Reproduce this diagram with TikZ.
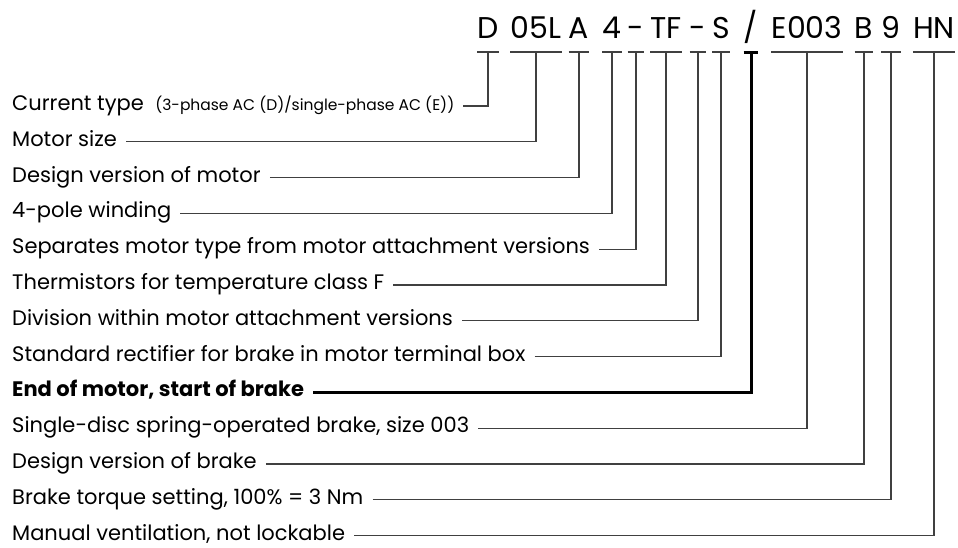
\documentclass[tikz,border=0pt]{standalone}
\usepackage{fontspec}
\setmainfont{Poppins}
\usetikzlibrary{positioning}

\begin{document}
\begin{tikzpicture}[x=1pt,y=-1pt,
 lbl/.style={anchor=base west,inner sep=0pt,font=\fontsize{21}{25}\selectfont},
 note/.style={anchor=base west,inner sep=0pt,font=\fontsize{15.5}{18}\selectfont},
 code/.style={anchor=base,inner sep=0pt,font=\fontsize{30}{35}\selectfont},
 lead/.style={draw=black!75,line width=1.2pt},
 key/.style={draw=black,line width=3pt}]
\useasboundingbox (0,0) rectangle (958,547);
% type code
\node[code] (c1) at (488,38) {D};
\node[code] (c2) at (536,38) {05L};
\node[code] (c3) at (579,38) {A};
\node[code] (c4) at (612,38) {4};
\node[code] (c5) at (636,38) {-};
\node[code] (c6) at (666,38) {TF};
\node[code] (c7) at (698,38) {-};
\node[code] (c8) at (721,38) {S};
\node[code] (c9) at (751,38) {/};
\node[code] (c10) at (807,38) {E003};
\node[code] (c11) at (864,38) {B};
\node[code] (c12) at (891,38) {9};
\node[code] (c13) at (934,38) {HN};
% explanations
\node[lbl] (l1) at (12,110.5) {Current type};
\node[note] (n1) at ([xshift=11pt]l1.base east) {(3-phase AC (D)/single-phase AC (E))};
\node[lbl] (l2) at (12,146.3) {Motor size};
\node[lbl] (l3) at (12,182.1) {Design version of motor};
\node[lbl] (l4) at (12,217.9) {4-pole winding};
\node[lbl] (l5) at (12,253.7) {Separates motor type from motor attachment versions};
\node[lbl] (l6) at (12,289.5) {Thermistors for temperature class F};
\node[lbl] (l7) at (12,325.3) {Division within motor attachment versions};
\node[lbl] (l8) at (12,361.1) {Standard rectifier for brake in motor terminal box};
\node[lbl,font=\fontsize{21}{25}\selectfont\bfseries] (l9) at (12,396.9) {End of motor, start of brake};
\node[lbl] (l10) at (12,432.7) {Single-disc spring-operated brake, size 003};
\node[lbl] (l11) at (12,468.5) {Design version of brake};
\node[lbl] (l12) at (12,504.3) {Brake torque setting, 100\% = 3 Nm};
\node[lbl] (l13) at (12,540.1) {Manual ventilation, not lockable};
% bars under the code
\foreach \i in {1,...,8,10,11,12,13}
  \draw[lead] ([yshift=-14pt]c\i.base west) -- ([yshift=-14pt]c\i.base east);
\draw[key] ([yshift=-14pt]c9.base west) -- ([yshift=-14pt]c9.base east);
% leaders
\draw[lead] (n1.base east) ++(9,-4.5) -| ([yshift=-14pt]c1.base);
\foreach \i in {2,...,8,10,11,12,13}
  \draw[lead] (l\i.base east) ++(9,-4.5) -| ([yshift=-14pt]c\i.base);
\draw[key] (l9.base east) ++(9,-4.5) -| ([yshift=-14pt]c9.base);
\end{tikzpicture}
\end{document}
